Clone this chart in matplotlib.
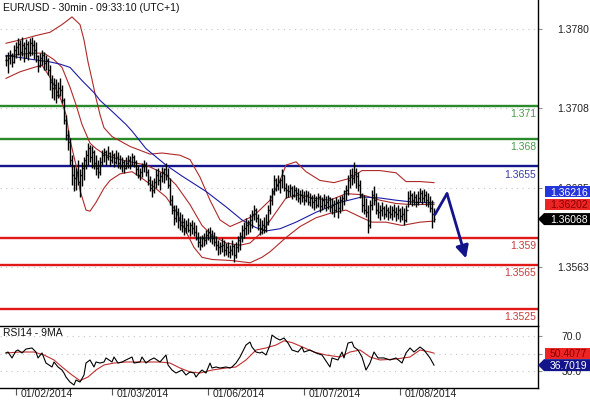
import matplotlib
matplotlib.use("Agg")
import matplotlib.pyplot as plt
from matplotlib.collections import LineCollection
from matplotlib.patches import Polygon

plt.rcParams['font.family'] = ['Liberation Sans', 'DejaVu Sans']

TITLE = "EUR/USD - 30min - 09:33:10 (UTC+1)"
RSI_TITLE = "RSI14 - 9MA"

# 30-minute bars (index 0 = first bar shown)
high = [
    1.3756, 1.3759, 1.3761, 1.3758, 1.3765, 1.3768, 1.3772, 1.3770, 1.3773, 1.3768,
    1.3771, 1.3769, 1.3772, 1.3773, 1.3770, 1.3768, 1.3756, 1.3758, 1.3761, 1.3759,
    1.3756, 1.3754, 1.3747, 1.3738, 1.3735, 1.3734, 1.3732, 1.3735, 1.3729, 1.3717,
    1.3702, 1.3688, 1.3681, 1.3665, 1.3656, 1.3653, 1.3661, 1.3652, 1.3659, 1.3663,
    1.3670, 1.3676, 1.3674, 1.3673, 1.3670, 1.3665, 1.3661, 1.3663, 1.3670, 1.3672,
    1.3670, 1.3673, 1.3668, 1.3670, 1.3667, 1.3670, 1.3668, 1.3665, 1.3663, 1.3661,
    1.3663, 1.3665, 1.3664, 1.3667, 1.3665, 1.3661, 1.3656, 1.3653, 1.3658, 1.3661,
    1.3659, 1.3652, 1.3646, 1.3642, 1.3644, 1.3652, 1.3653, 1.3650, 1.3654, 1.3653,
    1.3658, 1.3653, 1.3644, 1.3629, 1.3620, 1.3620, 1.3617, 1.3613, 1.3611, 1.3608,
    1.3606, 1.3608, 1.3604, 1.3606, 1.3604, 1.3601, 1.3595, 1.3591, 1.3592, 1.3594,
    1.3597, 1.3599, 1.3600, 1.3597, 1.3595, 1.3591, 1.3588, 1.3586, 1.3590, 1.3588,
    1.3585, 1.3586, 1.3583, 1.3588, 1.3584, 1.3586, 1.3591, 1.3595, 1.3601, 1.3604,
    1.3608, 1.3606, 1.3611, 1.3615, 1.3620, 1.3617, 1.3611, 1.3608, 1.3606, 1.3609,
    1.3611, 1.3620, 1.3629, 1.3635, 1.3647, 1.3644, 1.3647, 1.3644, 1.3652, 1.3647,
    1.3640, 1.3638, 1.3639, 1.3637, 1.3638, 1.3636, 1.3635, 1.3633, 1.3634, 1.3632,
    1.3633, 1.3632, 1.3631, 1.3629, 1.3630, 1.3628, 1.3631, 1.3629, 1.3627, 1.3630,
    1.3628, 1.3629, 1.3627, 1.3626, 1.3624, 1.3627, 1.3625, 1.3628, 1.3629, 1.3633,
    1.3638, 1.3647, 1.3652, 1.3653, 1.3659, 1.3653, 1.3650, 1.3642, 1.3631, 1.3629,
    1.3626, 1.3620, 1.3624, 1.3633, 1.3637, 1.3631, 1.3622, 1.3620, 1.3622, 1.3619,
    1.3621, 1.3618, 1.3620, 1.3619, 1.3621, 1.3618, 1.3620, 1.3617, 1.3619, 1.3617,
    1.3620, 1.3632, 1.3633, 1.3631, 1.3632, 1.3630, 1.3632, 1.3635, 1.3633, 1.3634,
    1.3632, 1.3631, 1.3628, 1.3624, 1.3617,
]
low = [
    1.3746, 1.3740, 1.3748, 1.3745, 1.3749, 1.3754, 1.3756, 1.3752, 1.3755, 1.3750,
    1.3754, 1.3752, 1.3755, 1.3756, 1.3753, 1.3750, 1.3741, 1.3745, 1.3747, 1.3743,
    1.3743, 1.3738, 1.3724, 1.3717, 1.3715, 1.3713, 1.3717, 1.3719, 1.3713, 1.3693,
    1.3679, 1.3670, 1.3656, 1.3638, 1.3632, 1.3633, 1.3638, 1.3627, 1.3637, 1.3642,
    1.3652, 1.3656, 1.3659, 1.3653, 1.3652, 1.3647, 1.3644, 1.3647, 1.3656, 1.3659,
    1.3656, 1.3661, 1.3655, 1.3658, 1.3654, 1.3657, 1.3653, 1.3652, 1.3650, 1.3649,
    1.3652, 1.3653, 1.3652, 1.3656, 1.3654, 1.3647, 1.3644, 1.3642, 1.3645, 1.3650,
    1.3646, 1.3638, 1.3632, 1.3627, 1.3631, 1.3635, 1.3638, 1.3633, 1.3641, 1.3640,
    1.3642, 1.3635, 1.3620, 1.3611, 1.3601, 1.3604, 1.3599, 1.3597, 1.3595, 1.3592,
    1.3594, 1.3595, 1.3591, 1.3593, 1.3591, 1.3588, 1.3581, 1.3579, 1.3581, 1.3582,
    1.3584, 1.3588, 1.3586, 1.3584, 1.3582, 1.3579, 1.3574, 1.3575, 1.3577, 1.3573,
    1.3574, 1.3572, 1.3571, 1.3574, 1.3568, 1.3571, 1.3577, 1.3579, 1.3586, 1.3590,
    1.3592, 1.3593, 1.3595, 1.3599, 1.3606, 1.3604, 1.3597, 1.3592, 1.3593, 1.3594,
    1.3595, 1.3601, 1.3611, 1.3620, 1.3629, 1.3632, 1.3633, 1.3631, 1.3635, 1.3632,
    1.3626, 1.3627, 1.3628, 1.3625, 1.3627, 1.3624, 1.3622, 1.3621, 1.3622, 1.3620,
    1.3622, 1.3620, 1.3619, 1.3617, 1.3615, 1.3617, 1.3618, 1.3613, 1.3615, 1.3617,
    1.3614, 1.3616, 1.3613, 1.3611, 1.3609, 1.3613, 1.3608, 1.3612, 1.3615, 1.3620,
    1.3624, 1.3629, 1.3635, 1.3638, 1.3640, 1.3635, 1.3632, 1.3626, 1.3613, 1.3611,
    1.3609, 1.3594, 1.3599, 1.3615, 1.3620, 1.3611, 1.3608, 1.3606, 1.3610, 1.3607,
    1.3609, 1.3606, 1.3608, 1.3606, 1.3609, 1.3605, 1.3607, 1.3604, 1.3606, 1.3601,
    1.3604, 1.3618, 1.3621, 1.3619, 1.3620, 1.3618, 1.3620, 1.3622, 1.3621, 1.3622,
    1.3619, 1.3618, 1.3613, 1.3599, 1.3604,
]
close = [
    1.3752, 1.3754, 1.3756, 1.3750, 1.3761, 1.3764, 1.3766, 1.3759, 1.3765, 1.3763,
    1.3766, 1.3759, 1.3767, 1.3765, 1.3761, 1.3755, 1.3746, 1.3754, 1.3756, 1.3749,
    1.3752, 1.3743, 1.3732, 1.3726, 1.3729, 1.3720, 1.3726, 1.3724, 1.3715, 1.3697,
    1.3683, 1.3677, 1.3661, 1.3647, 1.3644, 1.3650, 1.3641, 1.3647, 1.3653, 1.3661,
    1.3665, 1.3672, 1.3663, 1.3668, 1.3658, 1.3653, 1.3650, 1.3659, 1.3665, 1.3668,
    1.3663, 1.3667, 1.3661, 1.3665, 1.3659, 1.3663, 1.3658, 1.3655, 1.3659, 1.3653,
    1.3658, 1.3661, 1.3656, 1.3663, 1.3659, 1.3652, 1.3647, 1.3650, 1.3655, 1.3656,
    1.3650, 1.3642, 1.3635, 1.3633, 1.3641, 1.3647, 1.3642, 1.3646, 1.3650, 1.3652,
    1.3647, 1.3638, 1.3624, 1.3615, 1.3608, 1.3613, 1.3606, 1.3601, 1.3604, 1.3599,
    1.3601, 1.3597, 1.3601, 1.3599, 1.3595, 1.3590, 1.3586, 1.3583, 1.3590, 1.3588,
    1.3592, 1.3595, 1.3591, 1.3590, 1.3586, 1.3583, 1.3581, 1.3582, 1.3583, 1.3579,
    1.3581, 1.3577, 1.3579, 1.3582, 1.3574, 1.3581, 1.3588, 1.3591, 1.3597, 1.3599,
    1.3601, 1.3604, 1.3606, 1.3611, 1.3615, 1.3608, 1.3601, 1.3599, 1.3601, 1.3597,
    1.3604, 1.3615, 1.3624, 1.3632, 1.3642, 1.3638, 1.3641, 1.3642, 1.3647, 1.3635,
    1.3633, 1.3632, 1.3635, 1.3629, 1.3633, 1.3631, 1.3626, 1.3629, 1.3627, 1.3624,
    1.3629, 1.3622, 1.3626, 1.3622, 1.3624, 1.3620, 1.3627, 1.3619, 1.3624, 1.3620,
    1.3622, 1.3626, 1.3618, 1.3620, 1.3615, 1.3622, 1.3617, 1.3624, 1.3626, 1.3632,
    1.3633, 1.3642, 1.3647, 1.3644, 1.3650, 1.3646, 1.3638, 1.3629, 1.3620, 1.3615,
    1.3613, 1.3601, 1.3620, 1.3629, 1.3624, 1.3615, 1.3613, 1.3615, 1.3617, 1.3611,
    1.3615, 1.3613, 1.3611, 1.3615, 1.3613, 1.3611, 1.3615, 1.3610, 1.3611, 1.3606,
    1.3615, 1.3626, 1.3629, 1.3624, 1.3627, 1.3622, 1.3626, 1.3631, 1.3626, 1.3629,
    1.3624, 1.3622, 1.3617, 1.3611, 1.36068,
]

# Session-start bars and their dates
date_bars = [5, 53, 101, 149, 197]
date_labels = ["01/02/2014", "01/03/2014", "01/06/2014", "01/07/2014", "01/08/2014"]

# Moving average (blue)
sma_bars = [0, 7, 14, 22, 27, 32, 38, 44, 47, 53, 60, 63, 70, 80, 88, 100, 110, 118,
            125, 130, 137, 145, 155, 167, 178, 187, 195, 205, 214]
sma_vals = [1.3756, 1.3754, 1.3752, 1.3750, 1.3748, 1.3745, 1.3733, 1.3722, 1.3715,
            1.3705, 1.3693, 1.3687, 1.3671, 1.3656, 1.3646, 1.3632, 1.3618, 1.3606,
            1.3599, 1.3596, 1.3598, 1.3604, 1.3613, 1.3622, 1.3627, 1.3626, 1.3624,
            1.3622, 1.36216]

# Bollinger bands
bbu_bars = [0, 7, 15, 22, 28, 33, 37, 39, 41, 43, 45, 47, 49, 53, 57, 62, 72, 78, 87,
            92, 97, 102, 107, 112, 117, 124, 128, 132, 137, 140, 145, 150, 157, 164,
            172, 178, 187, 195, 200, 207, 214]
bbu_vals = [1.3767, 1.3770, 1.3774, 1.3777, 1.3784, 1.3791, 1.3784, 1.3770, 1.3750,
            1.3734, 1.3717, 1.3702, 1.3690, 1.3682, 1.3678, 1.3673, 1.3666, 1.3667,
            1.3665, 1.3661, 1.3645, 1.3624, 1.3606, 1.3600, 1.3604, 1.3610, 1.3617,
            1.3624, 1.3642, 1.3656, 1.3659, 1.3650, 1.3642, 1.3640, 1.3644, 1.3651,
            1.3651, 1.3649, 1.3641, 1.3641, 1.3640]
bbm_bars = [0, 7, 14, 19, 24, 28, 32, 35, 38, 42, 45, 50, 55, 62, 70, 77, 80, 85, 92,
            98, 103, 110, 117, 122, 128, 135, 140, 147, 153, 162, 170, 178, 187, 195,
            203, 214]
bbm_vals = [1.3755, 1.3757, 1.3758, 1.3758, 1.3752, 1.3745, 1.3727, 1.3711, 1.3693,
            1.3676, 1.3671, 1.3665, 1.3662, 1.3659, 1.3656, 1.3650, 1.3647, 1.3638,
            1.3620, 1.3601, 1.3592, 1.3585, 1.3583, 1.3585, 1.3595, 1.3613, 1.3626,
            1.3629, 1.3626, 1.3624, 1.3630, 1.3629, 1.3624, 1.3621, 1.3620, 1.36202]
bbl_bars = [0, 7, 14, 18, 22, 27, 30, 32, 35, 37, 40, 42, 45, 49, 52, 57, 63, 68, 74,
            80, 85, 89, 94, 98, 103, 113, 122, 128, 132, 140, 147, 155, 162, 170, 178,
            183, 190, 198, 207, 214]
bbl_vals = [1.3735, 1.3741, 1.3745, 1.3747, 1.3736, 1.3718, 1.3702, 1.3679, 1.3656,
            1.3633, 1.3615, 1.3614, 1.3622, 1.3635, 1.3642, 1.3648, 1.3650, 1.3644,
            1.3636, 1.3627, 1.3614, 1.3599, 1.3581, 1.3572, 1.3570, 1.3569, 1.3567,
            1.3572, 1.3577, 1.3590, 1.3600, 1.3608, 1.3612, 1.3615, 1.3608, 1.3604,
            1.3604, 1.3601, 1.3604, 1.3605]

# RSI(14) and its 9-period average
rsi_bars = [0, 1, 3, 5, 6, 8, 10, 13, 15, 16, 18, 20, 23, 24, 26, 28, 29, 30, 32, 34,
            35, 37, 39, 40, 42, 44, 45, 47, 49, 50, 53, 54, 56, 58, 60, 63, 64, 67, 68,
            70, 72, 74, 77, 80, 81, 83, 85, 88, 90, 92, 94, 95, 97, 98, 100, 102, 103,
            105, 107, 110, 112, 113, 115, 117, 118, 120, 122, 123, 125, 127, 128, 130,
            132, 133, 135, 137, 139, 141, 143, 146, 148, 149, 152, 155, 158, 162, 163,
            166, 168, 169, 171, 173, 174, 176, 178, 180, 182, 184, 186, 189, 192, 195,
            198, 200, 202, 204, 207, 209, 212, 214]
rsi_vals = [50.6, 51.7, 44.9, 52.9, 54.0, 50.6, 55.1, 56.3, 51.7, 44.9, 50.6, 39.1,
            34.6, 40.3, 34.6, 31.1, 27.7, 23.1, 17.4, 14.0, 19.7, 17.4, 25.4, 39.1,
            42.6, 34.6, 40.3, 39.1, 40.3, 44.9, 40.3, 46.0, 39.1, 40.3, 42.6, 46.0,
            39.1, 40.3, 46.0, 39.1, 42.6, 44.9, 40.3, 48.3, 36.9, 31.1, 27.7, 31.1,
            25.4, 28.9, 27.7, 23.1, 28.9, 31.1, 27.7, 39.1, 33.4, 34.6, 33.4, 34.6,
            33.4, 34.6, 39.1, 46.0, 50.6, 59.7, 63.1, 57.4, 51.7, 50.6, 51.7, 48.3,
            59.7, 71.1, 67.7, 65.4, 67.7, 62.0, 54.0, 51.7, 57.4, 51.7, 54.0, 50.6,
            48.3, 34.6, 44.9, 42.6, 51.7, 44.9, 62.0, 63.1, 57.4, 54.0, 46.0, 31.1,
            39.1, 51.7, 44.9, 44.9, 42.6, 44.9, 39.1, 50.6, 56.3, 51.7, 57.4, 54.0,
            44.9, 36.7019]
rsima_bars = [0, 7, 14, 19, 24, 28, 33, 37, 41, 45, 49, 54, 60, 69, 77, 82, 87, 92, 97,
              103, 110, 115, 120, 125, 130, 135, 139, 143, 147, 154, 160, 167, 172, 177,
              182, 187, 195, 202, 207, 212, 214]
rsima_vals = [50.6, 51.7, 51.7, 48.3, 42.6, 34.6, 25.4, 19.0, 23.1, 31.1, 36.9, 39.1,
              40.3, 40.3, 40.3, 39.1, 33.4, 28.9, 27.7, 31.1, 33.4, 34.6, 42.6, 54.0,
              56.3, 59.7, 64.5, 62.5, 58.6, 51.7, 48.3, 46.0, 51.7, 54.0, 46.0, 42.6,
              43.7, 46.0, 54.0, 51.7, 50.4077]

# Support / resistance levels
levels = [1.371, 1.368, 1.3655, 1.359, 1.3565, 1.3525]
level_labels = ["1.371", "1.368", "1.3655", "1.359", "1.3565", "1.3525"]
level_kind = ["res", "res", "pivot", "sup", "sup", "sup"]

price_ticks = [1.3780, 1.3708, 1.3635, 1.3563]
price_ticklabels = ["1.3780", "1.3708", "1.3635", "1.3563"]
rsi_ticks = [30, 50, 70]
rsi_ticklabels = ["30.0", "50.0", "70.0"]

# Expected path drawn after the last bar: (bar, price)
path_bars = [214.5, 220.5, 230.0]
path_prices = [1.3611, 1.3630, 1.3571]

line_colors = {"res": "#2a8a2a", "pivot": "#16168c", "sup": "#e01818"}
text_colors = {"res": "#4a9a4a", "pivot": "#3a3aa8", "sup": "#c83a3a"}
BB_COLOR = "#b02a2a"
MA_COLOR = "#1c1ca8"
NAVY = "#14148a"
GRID = dict(color="#c4c4c4", linestyle=(0, (1, 4)), linewidth=0.8)
FS = 7.5

W, H = 590, 400
fig = plt.figure(figsize=(W / 100, H / 100), dpi=100)
ax = fig.add_axes([0, 1 - 326 / H, 538 / W, 326 / H])
rx = fig.add_axes([0, 1 - 388 / H, 538 / W, 62 / H])

ax.set_xlim(-3, 266)
ax.set_ylim(1.35094, 1.38064)
rx.set_xlim(-3, 266)
rx.set_ylim(10.57, 81.43)

# ---- price panel ----
for lvl in price_ticks:
    ax.axhline(lvl, zorder=0.5, **GRID)
for lvl, lab, kind in zip(levels, level_labels, level_kind):
    ax.axhline(lvl, color=line_colors[kind], lw=1.7, zorder=1)
    ax.annotate(lab, xy=(1.0, lvl), xycoords=("axes fraction", "data"),
                xytext=(-1.5, -2.5), textcoords="offset points",
                ha="right", va="top", fontsize=FS, color=text_colors[kind])

ax.plot(bbu_bars, bbu_vals, color=BB_COLOR, lw=0.8, zorder=2)
ax.plot(bbm_bars, bbm_vals, color=BB_COLOR, lw=0.8, zorder=2)
ax.plot(bbl_bars, bbl_vals, color=BB_COLOR, lw=0.8, zorder=2)
ax.plot(sma_bars, sma_vals, color=MA_COLOR, lw=0.8, zorder=2)

opens = [close[0]] + close[:-1]
segs = []
for i, (o, h, l, c) in enumerate(zip(opens, high, low, close)):
    segs.append([(i, l), (i, h)])
    segs.append([(i - 0.6, o), (i, o)])
    segs.append([(i, c), (i + 0.6, c)])
ax.add_collection(LineCollection(segs, colors="black", linewidths=1.0, zorder=3))

ax.plot(path_bars[:2], path_prices[:2], color=NAVY, lw=2.0, zorder=4,
        solid_capstyle="round")
ax.annotate("", xy=(path_bars[2], path_prices[2]),
            xytext=(path_bars[1], path_prices[1]),
            arrowprops=dict(arrowstyle="-|>,head_length=0.75,head_width=0.38",
                            color=NAVY, lw=2.0, mutation_scale=10,
                            shrinkA=0, shrinkB=0),
            zorder=4)

ax.set_xticks([])
ax.set_yticks(price_ticks)
ax.set_yticklabels(price_ticklabels)
ax.yaxis.tick_right()
ax.tick_params(axis="y", length=3, color="#909090", pad=10.5, labelsize=FS,
               labelcolor="#222222")
for s in ("top", "left", "bottom"):
    ax.spines[s].set_visible(False)
ax.spines["right"].set_color("black")
ax.spines["right"].set_linewidth(1.0)
ax.patch.set_alpha(0)

# ---- RSI panel ----
for lvl in rsi_ticks:
    rx.axhline(lvl, zorder=0.5, **GRID)
rx.plot(rsima_bars, rsima_vals, color="#c03030", lw=0.8, zorder=2)
rx.plot(rsi_bars, rsi_vals, color="black", lw=0.8, zorder=3)

rx.set_yticks(rsi_ticks)
rx.set_yticklabels(rsi_ticklabels)
rx.yaxis.tick_right()
rx.tick_params(axis="y", length=3, color="#909090", pad=14, labelsize=FS,
               labelcolor="#222222")
rx.set_xticks(date_bars)
rx.set_xticklabels([])
rx.tick_params(axis="x", length=5, color="#555555", direction="out")
for b, lab in zip(date_bars, date_labels):
    rx.annotate(lab, xy=(b, 0), xycoords=("data", "axes fraction"),
                xytext=(3, -4.5), textcoords="offset points",
                ha="left", va="center", fontsize=FS, color="#222222")
rx.spines["left"].set_visible(False)
for s in ("top", "bottom", "right"):
    rx.spines[s].set_color("black")
    rx.spines[s].set_linewidth(1.0)

fig.text(3 / W, 1 - 8 / H, TITLE, fontsize=FS, ha="left", va="center", color="#111111")
fig.text(3 / W, 1 - 333 / H, RSI_TITLE, fontsize=FS, ha="left", va="center",
         color="#111111")


# ---- last-value boxes on the right scale ----
def pix_y(axes, value):
    return H - axes.transData.transform((0, value))[1]


def value_box(yc, text, face, fg, pointer=False, height=11):
    x0, x1 = (544, 590) if pointer else (545, 590)
    top, bot = yc - height / 2, yc + height / 2
    pts = [(x0, top), (x1, top), (x1, bot), (x0, bot)]
    if pointer:
        pts = [(538, yc)] + pts[:3] + [(x0, bot)]
    poly = Polygon([(x / W, 1 - y / H) for x, y in pts], closed=True,
                   transform=fig.transFigure, facecolor=face, edgecolor="none",
                   zorder=5)
    fig.add_artist(poly)
    fig.text(550 / W, 1 - yc / H, text, fontsize=FS, color=fg, ha="left",
             va="center_baseline", zorder=6)


fig.canvas.draw()
value_box(pix_y(ax, sma_vals[-1]) - 11, f"{sma_vals[-1]:.5f}", "#2436dc", "white")
value_box(pix_y(ax, bbm_vals[-1]), f"{bbm_vals[-1]:.5f}", "#ec2424", "#8a0000")
value_box(pix_y(ax, close[-1]), f"{close[-1]:.5f}", "black", "white",
          pointer=True, height=12)
value_box(pix_y(rx, rsima_vals[-1]), f"{rsima_vals[-1]:.4f}", "#ec2424", "#8a0000")
value_box(pix_y(rx, rsi_vals[-1]), f"{rsi_vals[-1]:.4f}", NAVY, "white",
          pointer=True, height=12)

fig.savefig("out.png", dpi=100)
